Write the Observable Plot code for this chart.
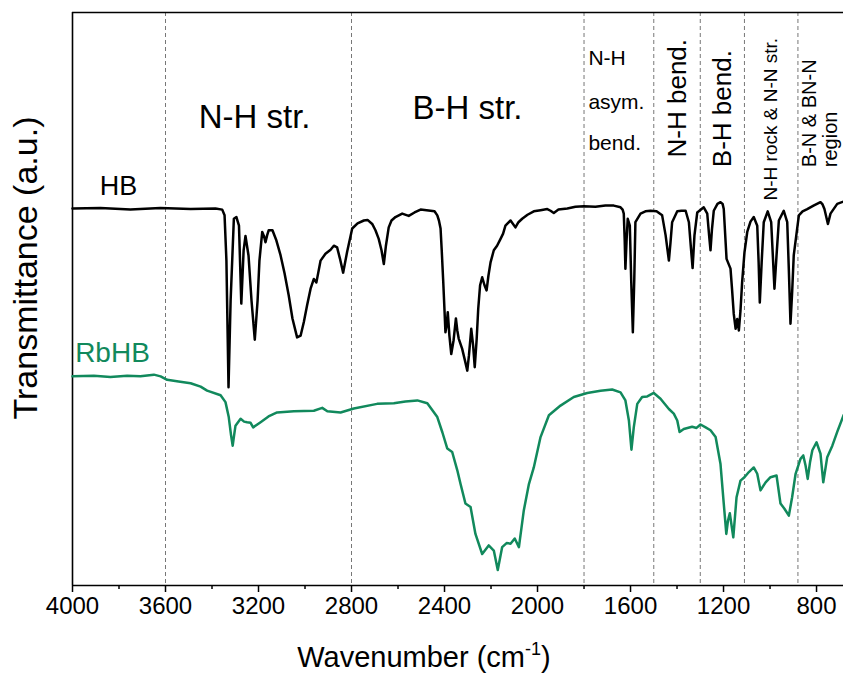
<!DOCTYPE html>
<html>
<head>
<meta charset="utf-8">
<script src="https://cdn.jsdelivr.net/npm/d3@7"></script>
<script src="https://cdn.jsdelivr.net/npm/@observablehq/plot@0.6"></script>
<style>
  html, body { margin: 0; padding: 0; background: #fff; }
  svg { display: block; }
</style>
</head>
<body>
<div id="chart"></div>
<script>
// ---- Data ----
const hbWavenumber = [4000,3880,3751,3622,3492,3385,3356,3346,3338,3329,
  3320,3306,3295,3284,3274,3264,3256,3243,3230,3216,
  3204,3196,3184,3176,3170,3163,3156,3140,3123,3105,
  3088,3070,3054,3034,3019,3005,2991,2976,2962,2951,
  2933,2912,2890,2876,2862,2850,2836,2826,2819,2797,
  2774,2747,2731,2711,2697,2683,2671,2661,2652,2640,
  2628,2611,2582,2554,2529,2503,2460,2443,2431,2424,
  2417,2412,2406,2400,2396,2391,2386,2379,2371,2361,
  2351,2345,2339,2324,2314,2302,2295,2285,2277,2270,
  2262,2255,2247,2238,2228,2219,2211,2202,2188,2174,
  2159,2148,2138,2116,2095,2082,2066,2043,2016,1987,
  1958,1944,1930,1910,1872,1837,1801,1751,1708,1672,
  1643,1634,1629,1625,1622,1617,1612,1603,1597,1590,
  1584,1579,1557,1536,1514,1488,1464,1449,1435,1428,
  1421,1399,1381,1363,1349,1341,1333,1325,1313,1285,
  1270,1262,1256,1250,1242,1226,1213,1204,1199,1191,
  1187,1170,1163,1156,1148,1141,1134,1127,1120,1110,
  1098,1084,1070,1055,1049,1044,1036,1027,1010,995,
  988,981,972,962,941,926,919,912,905,898,
  876,860,840,813,783,774,766,751,740,711,
  684];
const hbTransmittance = [65.8,65.9,65.6,65.9,65.7,65.8,65.6,64.6,56.7,34.6,
  49.7,64.0,64.3,62.8,49.2,58.5,61.0,57.6,49.7,42.9,
  49.7,56.7,61.7,60.9,59.9,61.1,62.0,62.0,60.2,57.6,
  54.5,50.6,46.6,43.3,43.6,46.0,48.9,51.8,53.5,52.9,
  56.7,57.9,58.6,59.3,59.0,57.1,54.6,56.7,58.2,62.3,
  63.2,63.7,63.8,63.1,62.0,60.5,58.5,56.1,59.3,62.5,
  63.7,64.3,64.9,64.5,65.1,65.6,65.4,65.3,64.6,63.7,
  62.3,58.5,53.5,48.0,44.2,45.4,47.7,43.6,40.4,42.8,
  46.6,44.5,43.1,41.3,39.6,37.5,40.1,44.8,41.9,38.1,
  42.8,48.3,52.4,53.8,52.4,51.5,54.1,56.4,58.5,59.3,
  60.5,61.4,62.8,63.7,62.5,63.4,64.0,64.7,65.3,65.5,
  65.7,65.4,65.0,65.6,65.8,66.1,66.2,66.1,66.3,66.3,
  66.0,65.6,64.9,60.2,55.3,60.2,64.0,62.8,53.2,44.2,
  53.2,63.4,64.9,65.3,65.4,65.3,64.6,61.1,56.7,59.9,
  63.4,65.3,65.4,65.4,63.4,59.3,55.4,61.1,65.1,66.0,
  64.9,61.1,58.5,62.0,65.4,66.6,66.9,66.6,65.7,59.9,
  57.0,55.3,51.5,47.4,44.8,46.5,44.5,48.0,52.9,58.1,
  61.7,63.5,64.3,62.8,56.4,49.4,56.4,63.4,65.3,63.4,
  57.6,51.8,57.6,63.7,65.4,63.4,55.0,45.7,51.1,57.6,
  64.6,65.3,65.7,66.3,66.9,66.5,65.7,63.1,64.9,66.6,
  67.0];

const rbhbWavenumber = [4000,3908,3837,3765,3708,3650,3621,3593,3544,3492,
  3449,3421,3363,3342,3328,3318,3311,3305,3299,3277,
  3262,3249,3234,3223,3191,3157,3120,3048,2962,2926,
  2904,2847,2790,2690,2618,2568,2517,2474,2431,2409,
  2388,2367,2345,2331,2310,2288,2267,2238,2210,2188,
  2171,2152,2133,2116,2098,2080,2059,2037,2016,1987,
  1951,1901,1844,1786,1729,1679,1643,1622,1607,1596,
  1586,1571,1550,1528,1500,1471,1435,1414,1399,1389,
  1371,1335,1316,1299,1277,1256,1234,1213,1199,1188,
  1181,1173,1158,1144,1127,1110,1091,1070,1055,1041,
  1019,998,972,955,938,919,905,890,869,857,
  847,838,828,818,800,783,771,754,732,711,
  684];
const rbhbTransmittance = [36.5,36.6,36.4,36.6,36.5,36.8,36.5,35.9,35.6,35.3,
  34.7,34.0,33.2,32.0,29.4,26.2,24.4,26.2,27.9,29.1,
  28.6,28.5,28.4,27.6,28.5,29.5,30.2,30.4,30.5,31.0,
  30.4,30.2,30.9,31.7,31.8,32.1,32.3,31.8,29.4,26.7,
  23.9,23.3,20.1,17.7,14.3,13.7,9.0,5.5,7.0,6.1,
  2.7,6.7,7.4,7.3,8.2,6.7,13.1,17.7,20.6,25.9,
  29.7,31.4,32.9,33.6,34.0,34.2,33.7,32.3,28.8,23.7,
  27.6,31.7,32.9,33.0,33.6,32.6,30.8,30.0,28.8,26.8,
  27.3,27.7,27.5,28.1,27.6,27.1,25.9,21.2,14.3,9.0,
  11.3,12.6,8.4,15.4,18.3,18.9,19.8,20.6,19.5,16.6,
  18.0,18.9,19.2,14.3,13.4,12.2,15.4,19.5,22.1,22.7,
  20.9,18.6,21.5,23.6,25.0,23.0,18.0,22.4,24.4,26.8,
  29.7];

const regionBoundaries = [3600, 2800, 1800, 1500, 1300, 1110, 880];
const majorTicks = [4000, 3600, 3200, 2800, 2400, 2000, 1600, 1200, 800];
const minorTicks = [3800, 3400, 3000, 2600, 2200, 1800, 1400, 1000];
const seriesNames = ["HB", "RbHB"];
const xTitle = "Wavenumber (cm";
const xTitleSup = "-1";
const yTitle = "Transmittance (a.u.)";

// ---- Build ----
const GREEN = "#11895c";
const hb = hbWavenumber.map((w, i) => ({w, t: hbTransmittance[i]}));
const rbhb = rbhbWavenumber.map((w, i) => ({w, t: rbhbTransmittance[i]}));
const FONT = "'Liberation Sans', Arial, Helvetica, sans-serif";

const plot = Plot.plot({
  width: 843,
  height: 674,
  marginLeft: 72,
  marginRight: 0,
  marginTop: 12,
  marginBottom: 89,
  style: {fontFamily: FONT, background: "#fff", color: "#000", overflow: "visible"},
  x: {domain: [4000, 684], axis: null},
  y: {domain: [0, 100], axis: null},
  marks: [
    Plot.ruleX(regionBoundaries, {stroke: "#777", strokeWidth: 1, strokeDasharray: "4,3"}),
    Plot.ruleY([100], {stroke: "#000", strokeWidth: 1.6}),
    Plot.ruleX([4000], {stroke: "#000", strokeWidth: 1.6}),
    Plot.ruleY([0], {stroke: "#000", strokeWidth: 1.6}),
    Plot.axisX(minorTicks, {tickSize: 4, tickFormat: () => "", label: null, strokeWidth: 1.5}),
    Plot.axisX(majorTicks, {tickSize: 7, tickPadding: 4, fontSize: 24, tickFormat: d => String(d), label: null, strokeWidth: 1.5}),
    Plot.line(rbhb, {x: "w", y: "t", stroke: GREEN, strokeWidth: 2.5, strokeLinejoin: "round"}),
    Plot.line(hb, {x: "w", y: "t", stroke: "#000", strokeWidth: 2.5, strokeLinejoin: "round"}),
    // series labels
    Plot.text([seriesNames[0]], {x: 3802, y: 69.6, fontSize: 27, fill: "#000"}),
    Plot.text([seriesNames[1]], {x: 3828, y: 40.5, fontSize: 28, fill: GREEN}),
    // region labels
    Plot.text(["N-H str."], {x: 3217, y: 81.7, fontSize: 33}),
    Plot.text(["B-H str."], {x: 2301, y: 83.2, fontSize: 33}),
    Plot.text(["N-H"], {x: 1781, y: 92.0, fontSize: 21, textAnchor: "start"}),
    Plot.text(["asym."], {x: 1781, y: 84.3, fontSize: 21, textAnchor: "start"}),
    Plot.text(["bend."], {x: 1781, y: 77.1, fontSize: 21, textAnchor: "start"}),
    Plot.text(["N-H bend."], {x: 1398, y: 74.7, fontSize: 26, rotate: -90, textAnchor: "start"}),
    Plot.text(["B-H bend."], {x: 1202, y: 73.0, fontSize: 26, rotate: -90, textAnchor: "start"}),
    Plot.text(["N-H rock & N-N str."], {x: 998, y: 67.2, fontSize: 19, rotate: -90, textAnchor: "start"}),
    Plot.text(["B-N & BN-N"], {x: 830, y: 73.0, fontSize: 20, rotate: -90, textAnchor: "start"}),
    Plot.text(["region"], {x: 738, y: 73.0, fontSize: 20, rotate: -90, textAnchor: "start"})
  ]
});

// axis titles (real text, with a superscript)
const svg = d3.select(plot);
svg.append("text")
  .attr("transform", "translate(37,268) rotate(-90)")
  .attr("text-anchor", "middle")
  .attr("font-size", 34)
  .attr("fill", "#000")
  .text(yTitle);
const xt = svg.append("text")
  .attr("x", 424).attr("y", 667)
  .attr("text-anchor", "middle")
  .attr("font-size", 29)
  .attr("fill", "#000");
xt.append("tspan").text(xTitle);
xt.append("tspan").attr("dy", -12).attr("font-size", 18).text(xTitleSup);
xt.append("tspan").attr("dy", 12).text(")");

document.getElementById("chart").appendChild(plot);
</script>
</body>
</html>
